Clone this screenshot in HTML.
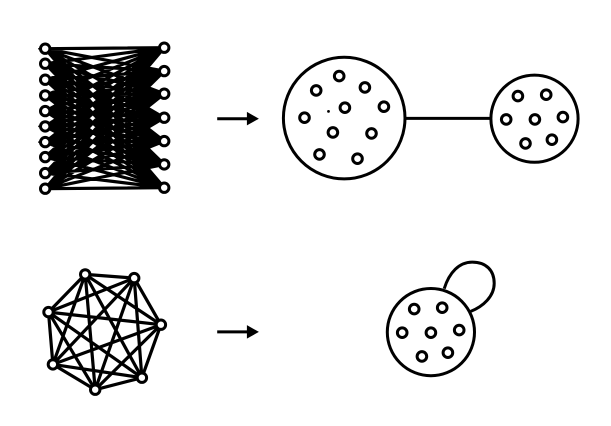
<!DOCTYPE html>
<html>
<head>
<meta charset="utf-8">
<style>
html,body{margin:0;padding:0;background:#fff;width:611px;height:426px;overflow:hidden}
svg{display:block}
</style>
</head>
<body>
<svg width="611" height="426" viewBox="0 0 611 426" xmlns="http://www.w3.org/2000/svg">
<rect width="611" height="426" fill="#fff"/>
<g transform="translate(0.2,0.4)">
<g id="bip" stroke="#000" stroke-width="3.2" fill="none">
<path d="M45 48.3L164 47.3M45 48.3L164 70.7M45 48.3L164 93.3M45 48.3L164 117.3M45 48.3L164 140.7M45 48.3L164 164M45 48.3L164 187.3
M45 63.3L164 47.3M45 63.3L164 70.7M45 63.3L164 93.3M45 63.3L164 117.3M45 63.3L164 140.7M45 63.3L164 164M45 63.3L164 187.3
M45 79.3L164 47.3M45 79.3L164 70.7M45 79.3L164 93.3M45 79.3L164 117.3M45 79.3L164 140.7M45 79.3L164 164M45 79.3L164 187.3
M45 95L164 47.3M45 95L164 70.7M45 95L164 93.3M45 95L164 117.3M45 95L164 140.7M45 95L164 164M45 95L164 187.3
M45 110.7L164 47.3M45 110.7L164 70.7M45 110.7L164 93.3M45 110.7L164 117.3M45 110.7L164 140.7M45 110.7L164 164M45 110.7L164 187.3
M45 126L164 47.3M45 126L164 70.7M45 126L164 93.3M45 126L164 117.3M45 126L164 140.7M45 126L164 164M45 126L164 187.3
M45 141.7L164 47.3M45 141.7L164 70.7M45 141.7L164 93.3M45 141.7L164 117.3M45 141.7L164 140.7M45 141.7L164 164M45 141.7L164 187.3
M45 156.7L164 47.3M45 156.7L164 70.7M45 156.7L164 93.3M45 156.7L164 117.3M45 156.7L164 140.7M45 156.7L164 164M45 156.7L164 187.3
M45 172.7L164 47.3M45 172.7L164 70.7M45 172.7L164 93.3M45 172.7L164 117.3M45 172.7L164 140.7M45 172.7L164 164M45 172.7L164 187.3
M45 188.3L164 47.3M45 188.3L164 70.7M45 188.3L164 93.3M45 188.3L164 117.3M45 188.3L164 140.7M45 188.3L164 164M45 188.3L164 187.3"/>
<path stroke-width="1.5" d="M38 48.3H45M38 126H45M38 141.7H45"/>
</g>
<g stroke="#000" stroke-width="3" fill="#fff">
<circle cx="45" cy="48.3" r="4.7"/><circle cx="45" cy="63.3" r="4.7"/><circle cx="45" cy="79.3" r="4.7"/><circle cx="45" cy="95" r="4.7"/><circle cx="45" cy="110.7" r="4.7"/><circle cx="45" cy="126" r="4.7"/><circle cx="45" cy="141.7" r="4.7"/><circle cx="45" cy="156.7" r="4.7"/><circle cx="45" cy="172.7" r="4.7"/><circle cx="45" cy="188.3" r="4.7"/>
<circle cx="164" cy="47.3" r="4.7"/><circle cx="164" cy="70.7" r="4.7"/><circle cx="164" cy="93.3" r="4.7"/><circle cx="164" cy="117.3" r="4.7"/><circle cx="164" cy="140.7" r="4.7"/><circle cx="164" cy="164" r="4.7"/><circle cx="164" cy="187.3" r="4.7"/>
</g>

<g stroke="#000" fill="none">
<line x1="217" y1="118.3" x2="248" y2="118.3" stroke-width="3"/>
<line x1="217" y1="331.5" x2="248" y2="331.5" stroke-width="3"/>
</g>
<polygon points="246.7,111.5 258.7,118.3 246.7,125" fill="#000"/>
<polygon points="246.7,324.7 258.7,331.5 246.7,338.2" fill="#000"/>

<g stroke="#000" stroke-width="3" fill="none">
<circle cx="344" cy="117.7" r="60.8"/>
<circle cx="534.3" cy="118.3" r="43.6"/>
<line x1="404.8" y1="118" x2="490.7" y2="118"/>
<circle cx="430.7" cy="331.7" r="43.6"/>
<path d="M444 288.3C449 272 459 261.7 472 261.7C486 261.7 494 270 494 283C494 296 483 306 470.5 311"/>
</g>
<circle cx="328.3" cy="111" r="1.4" fill="#000"/>

<g stroke="#000" stroke-width="3" fill="#fff">
<circle cx="339" cy="75.7" r="4.8"/><circle cx="316" cy="90" r="4.8"/><circle cx="364.7" cy="87" r="4.8"/><circle cx="383.7" cy="106.3" r="4.8"/><circle cx="344.7" cy="107.3" r="4.8"/><circle cx="304.3" cy="117.3" r="4.8"/><circle cx="332.7" cy="132" r="4.8"/><circle cx="371.3" cy="133" r="4.8"/><circle cx="319.3" cy="154" r="4.8"/><circle cx="357.3" cy="158.3" r="4.8"/>
<circle cx="517.7" cy="95.7" r="4.8"/><circle cx="546" cy="94.3" r="4.8"/><circle cx="506" cy="119" r="4.8"/><circle cx="534.7" cy="119" r="4.8"/><circle cx="562.7" cy="116.7" r="4.8"/><circle cx="525.3" cy="143" r="4.8"/><circle cx="551.7" cy="139.3" r="4.8"/>
<circle cx="414" cy="308.7" r="4.8"/><circle cx="442" cy="307.3" r="4.8"/><circle cx="402" cy="332.3" r="4.8"/><circle cx="430.7" cy="332.3" r="4.8"/><circle cx="459" cy="329.7" r="4.8"/><circle cx="421.7" cy="356" r="4.8"/><circle cx="447.7" cy="352.3" r="4.8"/>
</g>

<g stroke="#000" stroke-width="3.2" fill="none">
<path d="M85 274L134 277.7M85 274L160.7 324.3M85 274L141.7 377.3M85 274L95 389.3M85 274L52.7 364M85 274L48.3 311.7
M134 277.7L160.7 324.3M134 277.7L141.7 377.3M134 277.7L95 389.3M134 277.7L52.7 364M134 277.7L48.3 311.7
M160.7 324.3L141.7 377.3M160.7 324.3L95 389.3M160.7 324.3L52.7 364M160.7 324.3L48.3 311.7
M141.7 377.3L95 389.3M141.7 377.3L52.7 364M141.7 377.3L48.3 311.7
M95 389.3L52.7 364M95 389.3L48.3 311.7
M52.7 364L48.3 311.7"/>
</g>
<g stroke="#000" stroke-width="3" fill="#fff">
<circle cx="85" cy="274" r="4.7"/><circle cx="134" cy="277.7" r="4.7"/><circle cx="160.7" cy="324.3" r="4.7"/><circle cx="141.7" cy="377.3" r="4.7"/><circle cx="95" cy="389.3" r="4.7"/><circle cx="52.7" cy="364" r="4.7"/><circle cx="48.3" cy="311.7" r="4.7"/>
</g>
</g>
</svg>
</body>
</html>
